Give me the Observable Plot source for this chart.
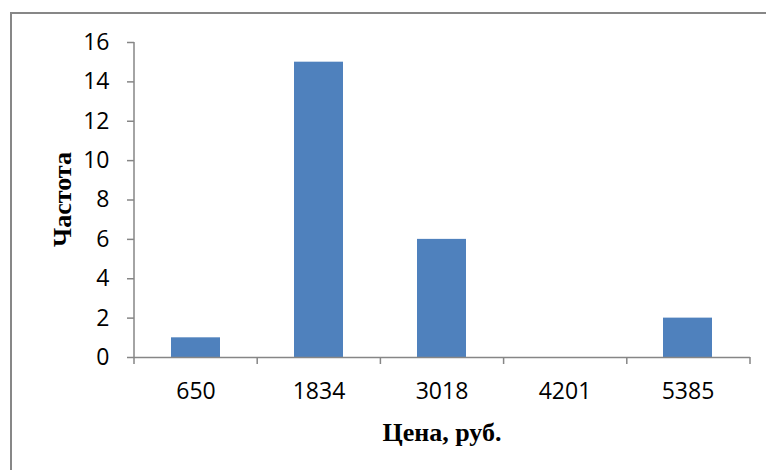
<!DOCTYPE html>
<html>
<head>
<meta charset="utf-8">
<script src="https://cdn.jsdelivr.net/npm/d3@7"></script>
<script src="https://cdn.jsdelivr.net/npm/@observablehq/plot@0.6"></script>
<style>
  html, body { margin: 0; padding: 0; background: #fff; overflow: hidden; }
  #wrap { position: relative; width: 766px; height: 470px; }
  #frame { position: absolute; left: 10px; top: 12px; width: 820px; height: 520px; border: 2px solid #878787; box-sizing: border-box; }
  #chart { position: absolute; left: 0; top: 0; }
</style>
</head>
<body>
<div id="wrap">
  <div id="frame"></div>
  <div id="chart"></div>
</div>
<script>
const categories = ["650", "1834", "3018", "4201", "5385"];
const frequencies = [1, 15, 6, 0, 2];
const yTicks = [0, 2, 4, 6, 8, 10, 12, 14, 16];
const yTitle = "Частота";
const xTitle = "Цена, руб.";

const data = categories.map((c, i) => ({price: c, count: frequencies[i]}));

const axisColor = "#868686";
const W = 766, H = 470;
const mL = 134, mR = 16, mT = 42, mB = 113;

// y axis line + x boundary ticks, positioned from the scales/dimensions
function axisLines(index, scales, values, dimensions) {
  const {width, marginLeft, marginRight} = dimensions;
  const n = categories.length;
  const step = (width - marginLeft - marginRight) / n;
  const y0 = scales.y(0), yTop = scales.y(d3.max(yTicks));
  const g = d3.create("svg:g").attr("stroke", axisColor).attr("stroke-width", 1.5);
  g.append("line").attr("x1", marginLeft).attr("x2", marginLeft).attr("y1", yTop).attr("y2", y0);
  for (let i = 0; i <= n; i++) {
    const x = marginLeft + i * step;
    g.append("line").attr("x1", x).attr("x2", x).attr("y1", y0).attr("y2", y0 + 7);
  }
  return g.node();
}

function titles(index, scales, values, dimensions) {
  const {width, height, marginLeft, marginRight, marginTop, marginBottom} = dimensions;
  const g = d3.create("svg:g")
    .attr("font-family", "Liberation Serif, Times New Roman, serif")
    .attr("font-weight", "bold").attr("font-size", 26).attr("fill", "#000")
    .attr("text-anchor", "middle");
  const cy = (marginTop + height - marginBottom) / 2;
  g.append("text")
    .attr("transform", `translate(${marginLeft - 72},${cy}) rotate(-90)`)
    .attr("dy", "0.35em").text(yTitle);
  g.append("text")
    .attr("x", (marginLeft + width - marginRight) / 2)
    .attr("y", height - marginBottom + 75)
    .attr("dy", "0.35em").text(xTitle);
  return g.node();
}

const chart = Plot.plot({
  width: W,
  height: H,
  marginLeft: mL,
  marginRight: mR,
  marginTop: mT,
  marginBottom: mB,
  style: {background: "transparent", overflow: "visible"},
  x: {domain: categories, paddingInner: 0.6, paddingOuter: 0.3},
  y: {domain: [0, 16]},
  marks: [
    Plot.barY(data, {x: "price", y: "count", fill: "#4F81BD"}),
    Plot.ruleY([0], {stroke: axisColor, strokeWidth: 1.5}),
    axisLines,
    Plot.axisY({ticks: yTicks, tickSize: 7, tickPadding: 18, stroke: axisColor, strokeWidth: 1.5,
      fontSize: 23, fontFamily: "Open Sans", fill: "#000", label: null}),
    Plot.axisX({tickSize: 0, tickPadding: 25, fontSize: 23, fontFamily: "Open Sans", fill: "#000", label: null}),
    titles
  ]
});
document.getElementById("chart").appendChild(chart);
</script>
</body>
</html>
